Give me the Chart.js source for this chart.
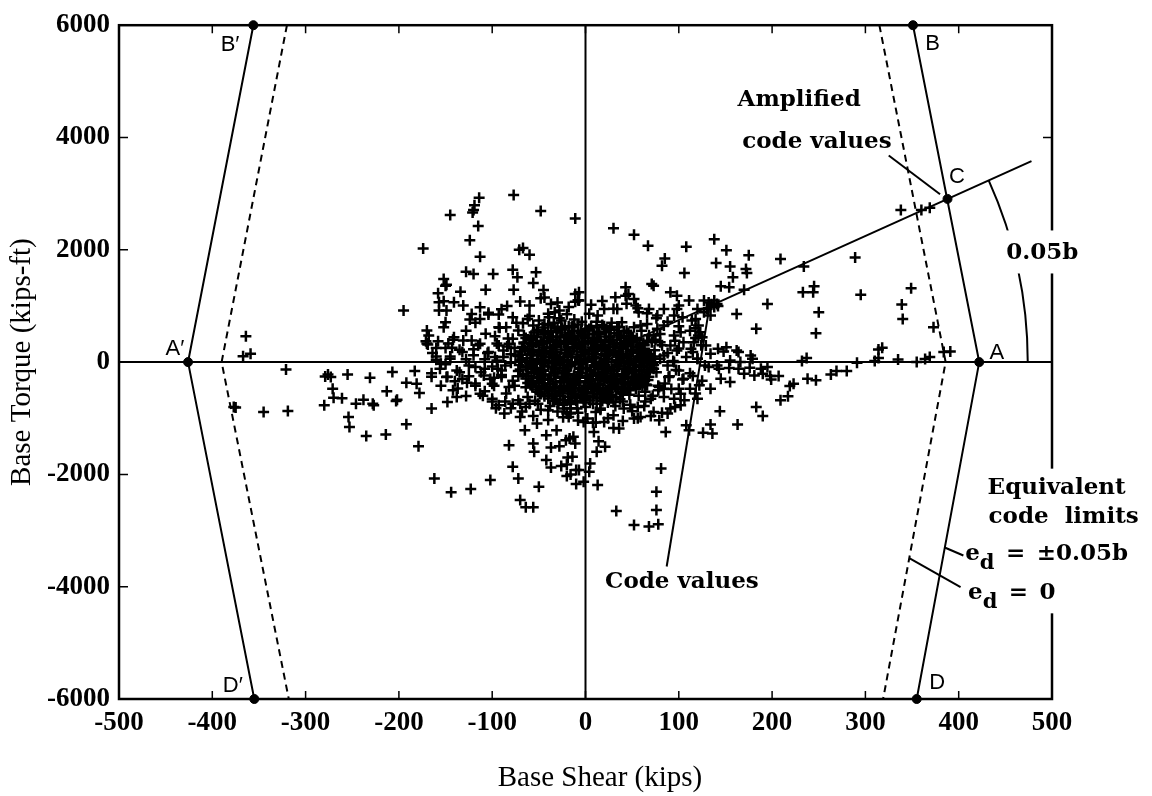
<!DOCTYPE html>
<html>
<head>
<meta charset="utf-8">
<script src="https://cdn.jsdelivr.net/npm/chart.js@4.4.0/dist/chart.umd.min.js"></script>
<style>
  html, body { margin: 0; padding: 0; background: #fff; }
</style>
</head>
<body>
<canvas id="chart" width="1152" height="796"></canvas>
<script>
// axis ticks
const xTicks = [-500, -400, -300, -200, -100, 0, 100, 200, 300, 400, 500];
const yTicks = [-6000, -4000, -2000, 0, 2000, 4000, 6000];

// limit lines (base shear, base torque)
const limitLeft = [{x: -356, y: 6000}, {x: -426, y: 0}, {x: -355, y: -6000}];
const limitRight = [{x: 351, y: 6000}, {x: 422, y: 0}, {x: 355, y: -6000}];
const zeroLeft = [{x: -320, y: 6000}, {x: -390, y: 0}, {x: -318, y: -6000}];
const zeroRight = [{x: 315, y: 6000}, {x: 386, y: 0}, {x: 319, y: -6000}];
const amplifiedLine = [{x: 0, y: 0}, {x: 478, y: 3580}];
const corners = [{x: -426, y: 0}, {x: 422, y: 0}, {x: -356, y: 6000}, {x: 351, y: 6000}, {x: 388, y: 2906}, {x: -355, y: -6000}, {x: 355, y: -6000}];

// leader lines
const ampLeader = [{x: 325, y: 3680}, {x: 380, y: 2990}];
const codeLeader = [{x: 87, y: -3640}, {x: 133, y: 1000}];
const edLeader1 = [{x: 385, y: -3302}, {x: 405, y: -3444}];
const edLeader2 = [{x: 347, y: -3492}, {x: 402, y: -4006}];

// response points [shear, torque]
const westPts = [
  [-364,460],[-367,105],[-359,150],[-321,-130],[-375,-810],[-377,-800],[-345,-890],[-319,-870],[-279,-255],[-276,-220],
  [-273,-266],[-271,-475],[-270,-633],[-261,-645],[-280,-769],[-255,-220],[-246,-740],[-238,-669],[-228,-740],[-227,-769],
  [-231,-278],[-254,-976],[-253,-1154],[-235,-1314],[-214,-1290],[-213,-521],[-207,-178],[-202,-669],[-203,-692],[-192,-367],
  [-183,-160],[-181,-385],[-178,-550],[-192,-1107],[-179,-1497],[-195,917],[-174,2024],[-165,-828],[-162,-2071],[-144,-2320],
  [-123,-2260],[-102,-2100],[-145,2621],[-120,2710],[-114,2929],[-119,2793],[-121,2663],[-115,2426],[-124,2171],[-113,1876],
  [-77,2976],[-48,2692],[-11,2556],[-71,2000],[-67,2030],[-60,1911],[-128,1609],[-120,1568],[-99,1568],[-78,1645],
  [-73,1509],[-53,1598],[-56,1408],[-77,1290],[-45,1284],[-48,1136],[-37,1035],[-152,1479],[-149,1379],[-150,1360],
  [-107,1290],[-134,1254],[-158,1225],[-152,1083],[-157,1065],[-141,1065],[-131,1006],[-157,917],[-149,917],[-113,976],
  [-122,858],[-124,757],[-150,710],[-152,621],[-170,562],[-168,473],[-171,373],[-169,314],[-158,373],[-164,160],
  [-141,444],[-143,254],[-131,385],[-122,385],[-107,503],[-97,461],[-93,296],[-82,325],[-113,769],[-104,846],
  [-93,846],[-78,799],[-62,769],[-67,692],[-39,799],[-33,888],[-28,917],[-11,1213],[-11,1077],
  [-156,-118],[-149,-266],[-140,-343],[-127,-367],[-142,-503],[-138,-621],[-128,-604],[-148,-710],[-113,-562],[-100,-651],
  [-93,-769],[-87,-917],[-82,-1479],[-70,-976],[-65,-1213],[-56,-1450],[-55,-1598],[-78,-1864],[-72,-2071],[-50,-2219],
  [-70,-2456],[-64,-2586],[-56,-2586],[-42,-1302],[-31,-1213],[-37,-1521],[-28,-1497],[-17,-1361],[-42,-1745],[-37,-1876],
  [-26,-1852],[-19,-1698],[-20,-2030],[-10,-1923],[-10,-2172],[-11,-1450],[-60,-740],[-52,-1095],[-20,-917],
  [-113,325],[-104,178],[-97,89],[-88,207],[-78,414],[-75,118],[-65,207],[-58,325],[-51,562],[-44,680],
  [-40,444],[-33,621],[-26,740],[-93,621],[-85,621],[-72,562],[-118,-89],[-109,-237],[-100,-385],[-90,-266],
  [-82,-444],[-72,-680],[-62,-621],[-51,-740],[-40,-858],[-29,-740],[-18,-976],[-64,-799],[-78,-740],
  [-160,40],[-150,-40],[-145,100],[-135,-180],[-128,50],[-120,230],[-165,-260],[-155,-420],[-137,-470],[-125,-250],
  [-118,-380],[-108,-120],[-132,180],[-147,330],[-160,250],
  [-95,30],[-86,-60],[-80,140],[-72,-250],[-68,40],[-90,-150],[-84,280],[-76,-420],[-66,330],[-98,-280]
];

const eastPts = [
  [30,2385],[52,2266],[67,2071],[108,2053],[138,2189],[151,1994],[175,1905],[209,1834],[140,1763],[155,1704],
  [172,1657],[173,1586],[85,1846],[82,1716],[106,1586],[158,1509],[145,1349],[154,1331],[170,1290],[234,1704],
  [289,1864],[338,2710],[360,2710],[369,2751],[245,1349],[233,1243],[244,1243],[195,1035],[250,888],[247,515],
  [295,1201],[349,1314],[339,1024],[340,769],[373,621],[318,254],[183,592],[162,858],[314,71],[384,178],
  [391,189],[369,89],[355,0],[335,47],[291,-12],[237,71],[269,-160],[280,-160],[238,-296],[247,-325],
  [223,-385],[207,-248],[198,-248],[190,-207],[217,-609],[209,-680],[183,-799],[190,-959],[163,-1112],[144,-876],
  [134,-1112],[136,-1272],[126,-1260],[108,-1124],[111,-1213],[86,-1243],[88,-917],[79,-1035],[81,-1893],[76,-2308],
  [76,-2633],[78,-2887],[68,-2929],[52,-2899],[33,-2651],[13,-2189],[-2,-2130],[-7,-1923],[-16,-2000],[-20,-1822],
  [-14,-1686],[5,-1805],[4,-1953],[12,-1598],[21,-1509],[14,-1408],[-13,-1331],[-21,-1390],[30,-1172],[36,-1183],
  [9,-1243],[11,-1077],[2,-1006],[-16,-917],[52,-1006],[50,-876],[63,-781],[70,-651],[79,-444],[84,-473],
  [100,-473],[95,-651],[102,-562],[112,-473],[89,-266],[100,-148],[105,-296],[115,-248],[122,-414],[120,-651],
  [143,-118],[141,-59],[145,-296],[154,-107],[164,-118],[166,0],[164,178],[177,118],[179,59],[181,-237],
  [151,266],[162,207],[142,237],[148,189],[134,148],[129,296],[121,473],[118,604],[121,651],[130,947],
  [138,1095],[141,1035],[127,888],[114,740],[102,533],[98,947],[100,1006],[91,1243],[73,1361],[71,1390],
  [43,1331],[32,1154],[43,1183],[46,1213],[52,1124],[54,1006],[57,888],[34,947],[39,710],[20,947],
  [13,828],[-7,1243],[-7,1095],[66,680],[77,592],[84,651],[95,473],[73,473],[71,355],[63,237],
  [84,118],[98,207],[113,237],[116,355],[123,533],[118,769],[104,799],[95,828],[77,828],[63,-59],
  [73,-118],[88,-59],[59,-355],[66,-414],[48,-473],[41,-355],[27,-473],[30,-710],[23,-651],[16,-828],
  [11,-888],[-2,-1065],[-9,-828],[-16,-710],[-20,-888],[-23,-828],
  [59,651],[68,947],[84,947],[98,1183],[111,1095],[120,947],[127,1095],[134,828],[125,444],[105,355],
  [91,296],[80,355],[66,118],[54,30],[95,0],[120,59],[132,-89],[155,30],[188,-118],[195,-89],
  [170,-207],[155,-355],[134,-473],[102,-769],[91,-828],[73,-888],[59,-976],[41,-828],[30,-946],[20,-1065],
  [135,1030],[138,980],[132,1060],[142,1000],
  [176,-101],[199,-308],[219,-426],[263,-219],[314,225],[364,53],[310,18],[232,18]
];

const corePts = [
  [-58,410],[-52,120],[-47,-230],[-44,530],[-41,-480],[-38,260],[-36,-90],[-33,-610],[-31,380],[-29,40],
  [-27,-340],[-25,610],[-23,-150],[-21,210],[-19,-520],[-17,470],[-15,-20],[-13,330],[-11,-410],[-9,90],
  [-7,-270],[-5,560],[-3,-640],[-1,180],[1,-110],[3,420],[5,-380],[7,60],[9,-560],[11,300],
  [13,-200],[15,500],[17,-30],[19,-460],[21,230],[23,-300],[25,120],[27,-580],[29,390],[31,-90],
  [33,-360],[35,20],[37,280],[39,-230],[41,460],[43,-470],[45,140],[47,-140],[49,350],[51,-50],
  [53,-320],[55,200],[57,-600],[59,70],[61,-220],[63,300],[65,-400],[67,30],[69,-130],
  [-55,-30],[-50,300],[-46,-380],[-42,170],[-39,-560],[-35,450],[-32,-190],[-28,90],[-26,-450],[-22,350],
  [-20,-60],[-18,640],[-14,-330],[-12,250],[-10,-690],[-8,470],[-6,-110],[-4,330],[-2,-470],[0,40],
  [2,-250],[4,590],[6,-160],[8,210],[10,-420],[12,380],[14,-70],[16,-630],[18,290],[20,-180],
  [22,50],[24,-510],[26,440],[28,-240],[30,170],[32,-440],[34,330],[36,-10],[38,-530],[40,240],
  [42,-280],[44,80],[46,-370],[48,420],[50,-180],[52,10],[54,-480],[56,260],[58,-70],[60,-330],
  [62,150],[64,-530],[66,380],[68,-260],[70,100],
  [-60,200],[-57,-380],[-53,-140],[-49,-560],[-45,360],[-43,20],[-40,-300],[-37,150],[-34,-450],[-30,560],
  [-27,-40],[-24,-200],[-22,470],[-19,120],[-16,-330],[-14,640],[-12,-560],[-9,260],[-7,-40],[-4,-200],
  [-1,480],[1,-600],[3,150],[6,-340],[8,440],[10,-60],[13,230],[16,-270],[18,-540],[21,380],
  [24,-120],[26,270],[29,-400],[31,520],[34,-250],[37,-660],[39,110],[42,-80],[44,310],[47,-580],
  [50,200],[52,-390],[55,430],[58,-240],[61,-450],[64,120],[67,-320],[72,-20],[74,210],[76,-180],
  [78,-420],[80,60]
];

// the solid black heart of the cloud
const densePts = [
  [-40,660],[-22,640],[-8,670],[6,645],[18,660],[34,630],
  [-52,570],[-37,550],[-25,580],[-12,555],[2,565],[14,540],[27,575],[41,550],
  [-58,470],[-45,490],[-31,455],[-19,480],[-4,465],[9,490],[22,455],[36,475],[49,460],
  [-60,390],[-48,375],[-35,400],[-23,380],[-11,395],[3,370],[16,400],[29,385],[43,370],[55,395],
  [-57,310],[-46,325],[-33,300],[-20,320],[-7,305],[6,330],[19,300],[31,315],[45,325],[58,300],
  [-62,230],[-50,215],[-38,245],[-26,225],[-13,240],[0,215],[12,235],[25,220],[38,240],[51,225],[63,235],
  [-59,150],[-47,165],[-35,140],[-22,160],[-9,135],[4,155],[17,145],[30,165],[43,140],[56,160],[68,150],
  [-63,70],[-51,55],[-39,85],[-27,60],[-15,80],[-2,55],[11,75],[24,60],[37,85],[49,65],[62,80],[72,60],
  [-60,-10],[-48,5],[-36,-25],[-24,0],[-11,-20],[2,5],[15,-15],[28,0],[41,-25],[54,-5],[66,-20],
  [-64,-90],[-52,-105],[-40,-80],[-28,-100],[-16,-75],[-3,-95],[10,-85],[23,-105],[36,-80],[48,-100],[60,-85],[71,-95],
  [-58,-170],[-46,-155],[-34,-185],[-21,-165],[-8,-180],[5,-155],[18,-175],[31,-160],[44,-185],[57,-165],[67,-175],
  [-61,-250],[-49,-265],[-37,-240],[-25,-255],[-12,-235],[1,-260],[14,-245],[27,-265],[40,-240],[53,-255],[64,-245],
  [-56,-330],[-44,-315],[-32,-345],[-19,-325],[-6,-340],[7,-315],[20,-335],[33,-320],[46,-345],[58,-330],
  [-59,-410],[-47,-425],[-35,-400],[-23,-415],[-10,-395],[3,-420],[16,-405],[29,-425],[42,-400],[54,-415],
  [-53,-490],[-41,-475],[-29,-505],[-17,-485],[-4,-500],[9,-480],[22,-495],[35,-475],[47,-500],
  [-48,-570],[-36,-585],[-24,-560],[-11,-580],[2,-555],[15,-575],[28,-590],[40,-565],
  [-40,-650],[-27,-665],[-14,-640],[-1,-660],[12,-645],[25,-670],
  [-30,-730],[-16,-745],[-2,-720],[12,-740],
  [-46,615],[-30,600],[-15,620],[0,595],[12,615],[26,605],
  [-55,525],[-43,510],[-31,530],[-18,515],[-5,520],[8,505],[21,530],[34,515],[46,520],
  [-64,430],[-52,445],[-39,420],[-27,440],[-15,425],[-1,435],[12,420],[25,445],[38,430],[51,415],
  [-66,350],[-53,340],[-41,360],[-28,345],[-14,355],[-1,340],[13,360],[25,350],[38,335],[51,355],[62,345],
  [-68,270],[-56,285],[-44,260],[-32,275],[-19,265],[-6,280],[7,260],[19,275],[32,265],[45,280],[57,270],
  [-70,190],[-56,180],[-44,200],[-31,185],[-16,195],[-3,180],[10,200],[23,190],[36,175],[49,195],[62,185],
  [-72,110],[-57,120],[-45,100],[-33,115],[-19,105],[-5,120],[8,100],[22,110],[34,125],[47,105],[61,115],[74,100],
  [-70,30],[-57,20],[-45,40],[-32,25],[-19,35],[-6,20],[7,40],[20,25],[33,35],[45,20],[58,40],[70,30],
  [-71,-50],[-58,-40],[-44,-60],[-31,-45],[-18,-55],[-5,-40],[9,-60],[21,-45],[34,-55],[47,-40],[60,-60],[73,-50],
  [-70,-130],[-57,-120],[-45,-140],[-33,-125],[-20,-135],[-7,-120],[5,-140],[17,-125],[30,-135],[42,-120],[54,-140],[66,-130],
  [-67,-210],[-55,-200],[-43,-220],[-30,-205],[-18,-215],[-5,-200],[8,-220],[21,-205],[34,-215],[46,-200],[60,-220],
  [-64,-290],[-52,-280],[-38,-300],[-25,-285],[-12,-295],[2,-280],[15,-300],[28,-285],[40,-295],[52,-280],[63,-300],
  [-62,-370],[-50,-360],[-38,-380],[-26,-365],[-13,-375],[0,-360],[13,-380],[26,-365],[39,-375],[51,-360],
  [-57,-450],[-44,-440],[-32,-460],[-20,-445],[-7,-455],[6,-440],[19,-460],[32,-445],[45,-455],
  [-51,-530],[-39,-520],[-27,-540],[-14,-525],[-1,-535],[12,-520],[25,-540],[38,-525],
  [-44,-610],[-31,-600],[-18,-620],[-5,-605],[8,-615],[21,-600],[33,-620],
  [-35,-690],[-22,-680],[-9,-700],[5,-685],[18,-695]
];

const shellPts = [
  [-105,160],[-100,-80],[-98,-420],[-95,330],[-92,610],[-90,-230],[-88,90],[-85,-560],[-83,420],[-80,-10],
  [-78,-330],[-76,250],[-74,700],[-72,-160],[-70,-740],[-68,130],[-66,480],[-64,-450],[-62,-80],[-60,820],
  [-58,-340],[-56,650],[-54,-690],[-50,740],[-48,-850],[-46,-10],[-40,860],[-38,-780],[-34,700],[-30,-880],
  [-28,780],[-24,-760],[-20,850],[-16,-820],[-12,760],[-8,-900],[-4,720],[0,-800],[4,860],[8,-740],
  [12,720],[16,-850],[20,640],[24,-720],[28,700],[32,-780],[36,620],[40,-700],[44,560],[48,-760],
  [52,620],[56,-800],[60,560],[64,-700],[68,480],[72,-600],[75,400],[78,-500],[82,300],[85,-380],
  [88,160],[90,-250],[94,20],[97,-140],[100,240],[104,-310],[108,90],[84,-620],[92,-480],[96,380],
  [80,500],[-86,-700],[-94,-120],[-102,-300],[-108,50],
  [-115,300],[-112,-180],[-118,-420],[-120,120],[-125,-60],[-128,560],[-132,-300],[-135,220],[-138,-150],[-142,400],
  [-145,60],[-148,-260],[-150,250],[-155,-30],[-160,100],[-165,-200],[-170,330],[-118,700],[-110,-600],[-104,880],
  [-96,-820],[-90,940],[-84,1000],[-70,1080],[-60,1010],[-44,1150],[-30,1060],[-18,980],[-8,1100],[6,1020],
  [18,1090],[30,950],[44,1040],[56,960],[66,870],[76,780],[88,720],[100,640],[112,560],[118,430],
  [124,300],[115,180],[120,60],[128,-60],[112,-200],[125,-330],[118,-560],[106,-680],[96,-800],[82,-900],
  [70,-960],[56,-1000],[40,-1050],[24,-1000],[8,-1080],[-8,-1040],[-24,-980],[-40,-1030],[-56,-960],[-68,-880],
  [-80,-820],[-100,-700],[-108,-520]
];

// annotation labels (positions in data units)
const letterLabels = [
  {t: 'A\u2032', x: -440, y: 231}, {t: 'B\u2032', x: -381, y: 5645}, {t: 'B', x: 372, y: 5662},
  {t: 'C', x: 398, y: 3302}, {t: 'A', x: 441, y: 160}, {t: 'D\u2032', x: -378, y: -5769}, {t: 'D', x: 377, y: -5716}
];
const noteLabels = [
  {t: 'Amplified', x: 163, y: 4562}, {t: 'code values', x: 168, y: 3816},
  {t: 'Code values', x: 21, y: -4029},
  {t: 'Equivalent', x: 431, y: -2343}, {t: 'code  limits', x: 432, y: -2858}
];
const arcRadius = 474;
const angleLabel = {t: '0.05b', x: 451, y: 1828};
const edLabels = [{t: '\u2002=\u2002\u00b10.05b', x: 407, y: -3532}, {t: '\u2002=\u20020', x: 410, y: -4225}];

const toXY = arr => arr.map(p => ({x: p[0], y: p[1]}));
const noteFont = 'bold 23px "DejaVu Serif"';

function lineSet(data, dash) {
  return {data, showLine: true, pointRadius: 0, borderColor: '#000', borderWidth: 2, borderDash: dash || [], fill: false};
}

const annotations = {
  id: 'annotations',
  afterDraw(chart) {
    const {ctx, chartArea: a, scales: {x, y}} = chart;
    ctx.save();
    ctx.strokeStyle = '#000';
    ctx.fillStyle = '#000';

    // frame and inward ticks
    ctx.lineWidth = 2.5;
    ctx.strokeRect(a.left, a.top, a.right - a.left, a.bottom - a.top);
    ctx.lineWidth = 1.5;
    ctx.beginPath();
    xTicks.forEach(v => {
      const px = x.getPixelForValue(v);
      ctx.moveTo(px, a.bottom); ctx.lineTo(px, a.bottom - 8);
      ctx.moveTo(px, a.top); ctx.lineTo(px, a.top + 8);
    });
    yTicks.forEach(v => {
      const py = y.getPixelForValue(v);
      ctx.moveTo(a.left, py); ctx.lineTo(a.left + 9, py);
      ctx.moveTo(a.right, py); ctx.lineTo(a.right - 9, py);
    });
    ctx.stroke();

    // angle arc
    const ox = x.getPixelForValue(0), oy = y.getPixelForValue(0);
    const end = amplifiedLine[1];
    const ang = Math.atan2(y.getPixelForValue(end.y) - oy, x.getPixelForValue(end.x) - ox);
    const r = x.getPixelForValue(arcRadius) - ox;
    ctx.lineWidth = 2;
    ctx.beginPath();
    ctx.arc(ox, oy, r, ang, 0, false);
    ctx.stroke();

    // 0.05b label with white gap
    ctx.font = noteFont;
    ctx.textBaseline = 'alphabetic';
    ctx.textAlign = 'left';
    const lx = x.getPixelForValue(angleLabel.x), ly = y.getPixelForValue(angleLabel.y);
    const w = ctx.measureText(angleLabel.t).width;
    ctx.fillStyle = '#fff';
    ctx.fillRect(lx - 6, ly - 29, w + 12, 43);
    ctx.fillStyle = '#000';
    ctx.fillText(angleLabel.t, lx, ly);

    // white block behind the code-limit notes
    const eq = noteLabels[3];
    const last = edLabels[1];
    const bx = x.getPixelForValue(eq.x) - 10;
    const by0 = y.getPixelForValue(eq.y) - 25;
    const by1 = y.getPixelForValue(last.y) + 14;
    ctx.fillStyle = '#fff';
    ctx.fillRect(bx, by0, chart.width - bx, by1 - by0);
    ctx.fillStyle = '#000';

    noteLabels.forEach(l => {
      ctx.fillText(l.t, x.getPixelForValue(l.x), y.getPixelForValue(l.y));
    });

    // e_d labels
    edLabels.forEach(l => {
      const px = x.getPixelForValue(l.x), py = y.getPixelForValue(l.y);
      ctx.font = noteFont;
      ctx.fillText('e', px, py);
      let off = ctx.measureText('e').width;
      ctx.font = 'bold 21px "DejaVu Serif"';
      ctx.fillText('d', px + off, py + 9);
      off += ctx.measureText('d').width;
      ctx.font = noteFont;
      ctx.fillText(l.t, px + off, py);
    });

    // point letters
    ctx.font = '22px "Liberation Sans"';
    ctx.textAlign = 'center';
    ctx.textBaseline = 'middle';
    letterLabels.forEach(l => {
      ctx.fillText(l.t, x.getPixelForValue(l.x), y.getPixelForValue(l.y));
    });
    ctx.restore();
  }
};

const tickFont = {family: '"Liberation Serif"', size: 27, weight: 'bold'};
const titleFont = {family: '"Liberation Serif"', size: 29};

new Chart(document.getElementById('chart').getContext('2d'), {
  type: 'scatter',
  data: {
    datasets: [
      lineSet([{x: -500, y: 0}, {x: 500, y: 0}]),
      lineSet([{x: 0, y: -6000}, {x: 0, y: 6000}]),
      lineSet(limitLeft),
      lineSet(limitRight),
      lineSet(zeroLeft, [7, 5]),
      lineSet(zeroRight, [7, 5]),
      lineSet(amplifiedLine),
      lineSet(ampLeader),
      lineSet(codeLeader),
      lineSet(edLeader1),
      lineSet(edLeader2),
      {
        data: toXY([...westPts, ...eastPts, ...corePts, ...densePts, ...shellPts]),
        pointStyle: 'cross', pointRadius: 5.5, pointBorderWidth: 2.5,
        borderColor: '#000', backgroundColor: '#000'
      },
      {
        data: corners, pointStyle: 'circle', pointRadius: 4.5,
        borderColor: '#000', backgroundColor: '#000', clip: false
      }
    ]
  },
  options: {
    responsive: false,
    animation: false,
    events: [],
    layout: {padding: {top: 23, right: 100, left: 0, bottom: 0}},
    plugins: {legend: {display: false}, tooltip: {enabled: false}},
    scales: {
      x: {
        type: 'linear', min: -500, max: 500,
        afterBuildTicks: s => { s.ticks = xTicks.map(v => ({value: v})); },
        afterFit: s => { s.height = 97; },
        grid: {display: false, drawTicks: false},
        border: {display: false},
        ticks: {font: tickFont, color: '#000', padding: 8, maxRotation: 0, autoSkip: false, callback: v => String(v)},
        title: {display: true, text: '    Base Shear (kips)', font: titleFont, color: '#000', padding: {top: 0, bottom: 0}}
      },
      y: {
        type: 'linear', min: -6000, max: 6000,
        afterBuildTicks: s => { s.ticks = yTicks.map(v => ({value: v})); },
        afterFit: s => { s.width = 119; },
        grid: {display: false, drawTicks: false},
        border: {display: false},
        ticks: {font: tickFont, color: '#000', padding: 9, autoSkip: false, callback: v => String(v)},
        title: {display: true, text: 'Base Torque (kips-ft)', font: titleFont, color: '#000', padding: {top: 5, bottom: 0}}
      }
    }
  },
  plugins: [annotations]
});
</script>
</body>
</html>
